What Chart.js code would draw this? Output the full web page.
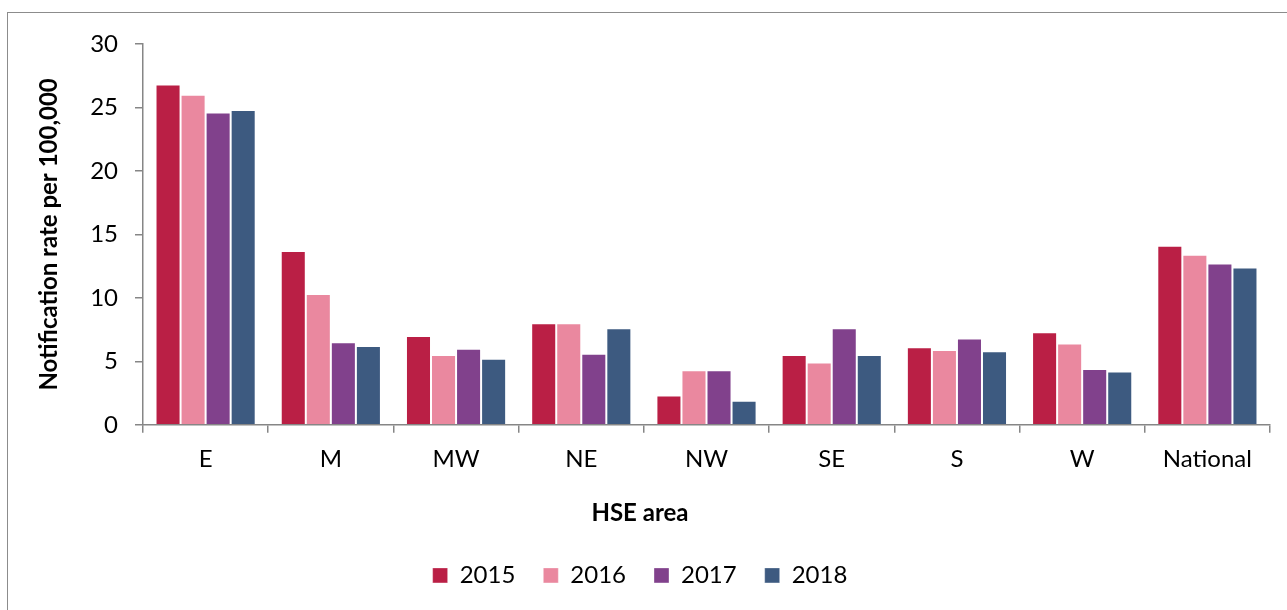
<!DOCTYPE html>
<html>
<head>
<meta charset="utf-8">
<script src="https://cdn.jsdelivr.net/npm/chart.js@4"></script>
<style>
  html, body { margin: 0; padding: 0; background: #fff; overflow: hidden; }
  #frame { position: absolute; left: 7px; top: 12px; width: 1300px; height: 620px; border: 1.5px solid #8c8c8c; box-sizing: border-box; }
  #wrap { position: absolute; left: 0; top: 0; width: 1287px; height: 610px; }
</style>
</head>
<body>
<div id="frame"></div>
<div id="wrap"><canvas id="c" width="1287" height="610"></canvas></div>
<script>
const categories = ["E", "M", "MW", "NE", "NW", "SE", "S", "W", "National"];
const seriesNames = ["2015", "2016", "2017", "2018"];
const values2015 = [26.8, 13.7, 7.0, 8.0, 2.3, 5.5, 6.1, 7.3, 14.1];
const values2016 = [26.0, 10.3, 5.5, 8.0, 4.3, 4.9, 5.9, 6.4, 13.4];
const values2017 = [24.6, 6.5, 6.0, 5.6, 4.3, 7.6, 6.8, 4.4, 12.7];
const values2018 = [24.8, 6.2, 5.2, 7.6, 1.9, 5.5, 5.8, 4.2, 12.4];
const yTicks = [0, 5, 10, 15, 20, 25, 30];
const colors = ["#BA1F45", "#EA889F", "#81418C", "#3D5A80"];
const yTitle = "Notification rate per 100,000";
const xTitle = "HSE area";

const allValues = [values2015, values2016, values2017, values2018];
const FONT = "Lato, 'Open Sans', sans-serif";

new Chart(document.getElementById("c"), {
  type: "bar",
  data: {
    labels: categories,
    datasets: seriesNames.map((n, i) => ({
      label: n,
      data: allValues[i],
      backgroundColor: colors[i],
      borderColor: "rgba(255,255,255,0.35)",
      borderWidth: 1,
      categoryPercentage: 0.8,
      barPercentage: 1.0
    }))
  },
  options: {
    responsive: false,
    animation: false,
    devicePixelRatio: 1,
    layout: { padding: { left: 10, top: 44, right: 17, bottom: 12.6 } },
    plugins: {
      tooltip: { enabled: false },
      title: {
        display: true,
        position: "bottom",
        weight: 500,
        text: xTitle,
        color: "#000",
        font: { family: FONT, size: 24, weight: "bold" },
        padding: { top: 5, bottom: 8.2 }
      },
      legend: {
        position: "bottom",
        labels: {
          color: "#000",
          font: { family: FONT, size: 24 },
          boxWidth: 15,
          boxHeight: 15,
          padding: 28
        }
      }
    },
    scales: {
      x: {
        afterFit: s => { s.height = 68.6; },
        grid: { offset: true, drawOnChartArea: false, drawTicks: true, tickLength: 8, color: "#868686", lineWidth: 1.5 },
        border: { color: "#868686", width: 1.5 },
        ticks: { color: "#000", font: { family: FONT, size: 24 }, padding: 12 }
      },
      y: {
        min: 0, max: 30,
        afterFit: s => { s.width = 133; },
        afterBuildTicks: s => { s.ticks = yTicks.map(v => ({ value: v })); },
        grid: { drawOnChartArea: false, drawTicks: true, tickLength: 8, color: "#868686", lineWidth: 1.5 },
        border: { color: "#868686", width: 1.5 },
        ticks: { color: "#000", font: { family: FONT, size: 24 }, padding: 17 },
        title: { display: true, text: yTitle, color: "#000", font: { family: FONT, size: 24, weight: "bold" }, padding: { top: 25, bottom: 25 } }
      }
    }
  }
});
</script>
</body>
</html>
